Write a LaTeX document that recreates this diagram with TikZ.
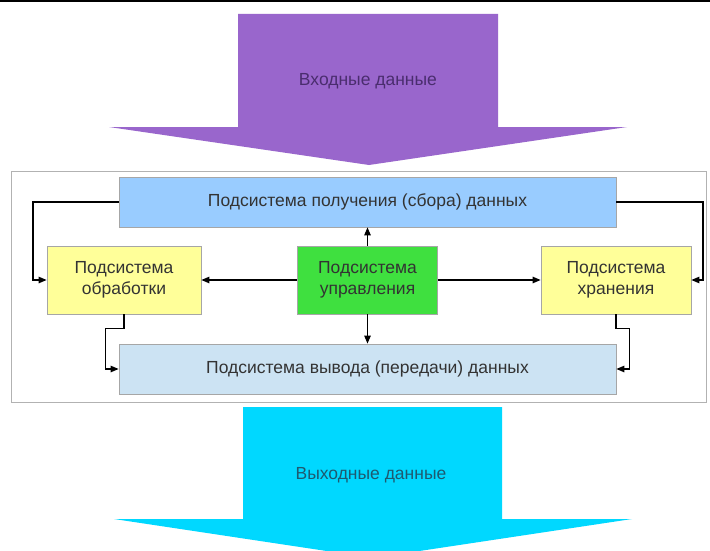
\documentclass[tikz,border=0pt]{standalone}
\usepackage{fontspec}
\setmainfont{Liberation Sans}
\usetikzlibrary{calc,arrows.meta}
\definecolor{purp}{HTML}{9966CC}
\definecolor{purptxt}{HTML}{4A2D6E}
\definecolor{cyanarr}{HTML}{00D8FF}
\definecolor{cyantxt}{HTML}{1E5A70}
\definecolor{topblue}{HTML}{99CCFF}
\definecolor{botblue}{HTML}{CCE3F3}
\definecolor{yel}{HTML}{FFFF99}
\definecolor{grn}{HTML}{3FE03F}
\definecolor{txt}{HTML}{333333}
\tikzset{
  box/.style={draw=gray!70, line width=0.8pt, text=txt, align=center,
    font=\fontsize{17.5}{20.5}\selectfont, inner sep=0pt},
  arr/.style={draw=black, line width=1.2pt, -{Triangle[length=8pt,width=6.5pt]}},
  bigtxt/.style={font=\fontsize{17.5}{20.5}\selectfont}
}
\begin{document}
\begin{tikzpicture}[x=1pt,y=-1pt]
\useasboundingbox (0,0) rectangle (710,551);
\fill[white] (0,0) rectangle (710,551);
\draw[black, line width=2.5pt] (0,1) -- (710,1);
% input arrow
\fill[purp] (238,14) -- (498,14) -- (498,127) -- (627,127) -- (369,165) -- (109,127) -- (238,127) -- cycle;
\node[bigtxt, text=purptxt] (inp) at (368,81) {Входные данные};
% frame
\draw[draw=gray!60, line width=0.8pt] (11,171) rectangle (706,402);
% boxes
\node[box, fill=topblue, minimum width=497pt, minimum height=50pt] (top) at (367.5,202) {Подсистема получения (сбора) данных};
\node[box, fill=yel, minimum width=154pt, minimum height=68pt] (lp) at (124,280) {Подсистема\\обработки};
\node[box, fill=grn, minimum width=140pt, minimum height=68pt] (ctl) at (367.5,280) {Подсистема\\управления};
\node[box, fill=yel, minimum width=150pt, minimum height=68pt] (rp) at (616,280) {Подсистема\\хранения};
\node[box, fill=botblue, minimum width=497pt, minimum height=50pt] (bot) at (367.5,369) {Подсистема вывода (передачи) данных};
% connectors
\coordinate (cl) at (33,0);
\coordinate (cr) at (703,0);
\draw[arr] (top.west) -| (cl |- lp.west) -- (lp.west);
\draw[arr] (top.east) -| (cr |- rp.east) -- (rp.east);
\draw[arr] (ctl.west) -- (lp.east);
\draw[arr] (ctl.east) -- (rp.west);
\draw[arr] (ctl.north) -- (top.south);
\draw[arr] (ctl.south) -- (bot.north);
\draw[arr] (lp.south) -- ++(0,14) -| ($(bot.west)+(-13,0)$) -- (bot.west);
\draw[arr] (rp.south) -- ++(0,14) -| ($(bot.east)+(13,0)$) -- (bot.east);
% output arrow
\fill[cyanarr] (243,407) -- (502,407) -- (502,519) -- (632,519) -- (373,558) -- (114,519) -- (243,519) -- cycle;
\node[bigtxt, text=cyantxt] (outp) at (371,475) {Выходные данные};
\end{tikzpicture}
\end{document}
